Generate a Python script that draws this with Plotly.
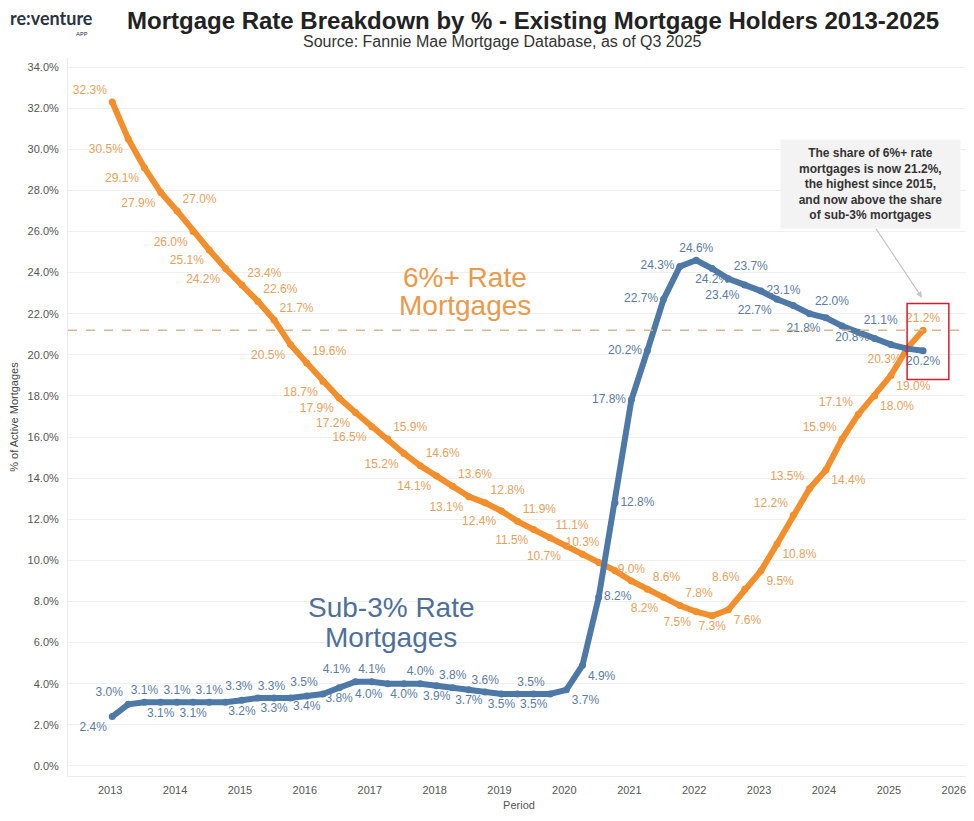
import pandas as pd
import plotly.graph_objects as go

# quarterly, 2013 Q1 .. 2025 Q3
periods = pd.date_range("2013-01-01", "2025-07-01", freq="QS")

# share of active mortgages with a rate of 6% or more
rate_6_plus = [32.3, 30.5, 29.1, 27.9, 27.0, 26.0, 25.1, 24.2, 23.4, 22.6,
               21.7, 20.5, 19.6, 18.7, 17.9, 17.2, 16.5, 15.9, 15.2, 14.6,
               14.1, 13.6, 13.1, 12.8, 12.4, 11.9, 11.5, 11.1, 10.7, 10.3,
               9.9, 9.5, 9.0, 8.6, 8.2, 7.8, 7.5, 7.3, 7.6, 8.6,
               9.5, 10.8, 12.2, 13.5, 14.4, 15.9, 17.1, 18.0, 19.0, 20.3,
               21.2]

# share of active mortgages with a rate below 3%
rate_sub_3 = [2.4, 3.0, 3.1, 3.1, 3.1, 3.1, 3.1, 3.1, 3.2, 3.3,
              3.3, 3.3, 3.4, 3.5, 3.8, 4.1, 4.1, 4.0, 4.0, 4.0,
              3.9, 3.8, 3.7, 3.6, 3.5, 3.5, 3.5, 3.5, 3.7, 4.9,
              8.2, 12.8, 17.8, 20.2, 22.7, 24.3, 24.6, 24.2, 23.7, 23.4,
              23.1, 22.7, 22.4, 22.0, 21.8, 21.4, 21.1, 20.8, 20.5, 20.3,
              20.2]

# points that carry no label in the original
hide_6_plus = [30, 31]
hide_sub_3 = [7, 25, 42, 45, 48, 49]

pos_6_plus = ["top left", "bottom left", "bottom left", "bottom left", "top right",
              "bottom left", "bottom left", "bottom left", "top right", "top right",
              "top right", "bottom left", "top right", "bottom left", "bottom left",
              "bottom left", "bottom left", "top right", "bottom left", "top right",
              "bottom left", "top right", "bottom left", "top right", "bottom left",
              "top right", "bottom left", "top right", "bottom left", "top center",
              "top center", "top center", "top center", "top right", "bottom left",
              "top right", "bottom left", "bottom center", "bottom right", "top left",
              "bottom right", "bottom right", "top left", "top left", "bottom right",
              "top left", "top left", "bottom right", "bottom right", "bottom left",
              "top center"]

pos_sub_3 = ["bottom left", "top left", "top center", "bottom center", "top center",
             "bottom center", "top center", "top center", "bottom center", "top left",
             "bottom center", "top left", "bottom center", "top left", "bottom center",
             "top left", "top center", "bottom left", "bottom center", "top center",
             "bottom center", "top center", "bottom center", "top center", "bottom center",
             "middle left", "bottom center", "top left", "bottom right", "bottom right",
             "middle right", "middle right", "middle left", "middle left", "middle left",
             "middle left", "top center", "bottom center", "top right", "bottom left",
             "middle right", "bottom left", "top right", "top right", "bottom left",
             "top right", "top right", "middle left", "top right", "top right",
             "bottom center"]

ORANGE = "#F28E2B"
BLUE = "#4E79A7"
ORANGE_TXT = "#E6A15E"
BLUE_TXT = "#5B7BA2"
FONT = "Liberation Sans, Arial, sans-serif"


def labels(values, hidden):
    return ["" if i in hidden else f"{v:.1f}%" for i, v in enumerate(values)]


fig = go.Figure()

fig.add_trace(go.Scatter(
    x=periods, y=rate_6_plus, mode="lines+markers+text",
    line=dict(color=ORANGE, width=6), marker=dict(color=ORANGE, size=7),
    text=labels(rate_6_plus, hide_6_plus), textposition=pos_6_plus,
    textfont=dict(color=ORANGE_TXT, size=12, family=FONT),
    cliponaxis=False, name="6%+ Rate Mortgages"))

fig.add_trace(go.Scatter(
    x=periods, y=rate_sub_3, mode="lines+markers+text",
    line=dict(color=BLUE, width=6), marker=dict(color=BLUE, size=7),
    text=labels(rate_sub_3, hide_sub_3), textposition=pos_sub_3,
    textfont=dict(color=BLUE_TXT, size=12, family=FONT),
    cliponaxis=False, name="Sub-3% Rate Mortgages"))

# reference level: latest 6%+ share
fig.add_hline(y=rate_6_plus[-1], line=dict(color="#D8B690", width=1.5, dash="dash"))

# red box around the latest quarter
last = periods[-1]
fig.add_shape(type="rect", xref="x", yref="y",
              x0=last - pd.Timedelta(days=90), x1=last + pd.Timedelta(days=145),
              y0=18.8, y1=22.5, line=dict(color="#D0202E", width=1.5))

# series call-outs
for txt, yy in [("6%+ Rate", 23.78), ("Mortgages", 22.42)]:
    fig.add_annotation(x="2018-06-10", y=yy, text=txt, showarrow=False,
                       font=dict(color="#E99A4C", size=28, family=FONT))
for txt, yy in [("Sub-3% Rate", 7.73), ("Mortgages", 6.27)]:
    fig.add_annotation(x="2017-04-20", y=yy, text=txt, showarrow=False,
                       font=dict(color="#4F6F97", size=28, family=FONT))

fig.add_annotation(
    xref="paper", yref="paper", x=0.89, y=0.887, xanchor="center", yanchor="top",
    text=("The share of 6%+ rate<br>mortgages is now 21.2%,<br>the highest since 2015,"
          "<br>and now above the share<br>of sub-3% mortgages"),
    showarrow=False, font=dict(color="#333333", size=12, family=FONT, weight="bold"),
    bgcolor="#F3F3F3", borderpad=6, width=167, align="center")
fig.add_annotation(x=last, y=22.7, text="", showarrow=True, ax=-48, ay=-72,
                   arrowcolor="#C4C4C4", arrowwidth=1.2, arrowhead=2, arrowsize=1,
                   standoff=2)

# header
fig.add_annotation(xref="paper", yref="paper", x=0.516, y=1.0, yshift=38, yanchor="middle",
                   text="<b>Mortgage Rate Breakdown by % - Existing Mortgage Holders 2013-2025</b>",
                   showarrow=False, font=dict(color="#222222", size=24, family=FONT))
fig.add_annotation(xref="paper", yref="paper", x=0.482, y=1.0, yshift=17, yanchor="middle",
                   text="Source: Fannie Mae Mortgage Database, as of Q3 2025",
                   showarrow=False, font=dict(color="#333333", size=16, family=FONT))
fig.add_annotation(xref="paper", yref="paper", x=-0.067, y=1.0, yshift=40, xanchor="left",
                   yanchor="middle", text="<b>re:venture</b>", showarrow=False,
                   font=dict(color="#2B3342", size=18, family="Lato, sans-serif"))
fig.add_annotation(xref="paper", yref="paper", x=0.024, y=1.0, yshift=25, xanchor="right",
                   yanchor="middle", text="APP", showarrow=False,
                   font=dict(color="#2B3342", size=6, family="Lato, sans-serif"))

# the page puts the figure 8px in from the top-left corner; keep it inside the window
fig.update_layout(
    width=962, height=805,
    margin=dict(l=60, r=0, t=50, b=37),
    paper_bgcolor="white", plot_bgcolor="white",
    showlegend=False,
    font=dict(family=FONT, color="#555555"),
)
fig.update_xaxes(
    range=["2012-04-27", "2026-03-22"], dtick="M12", tick0="2013-01-01", tickformat="%Y",
    showgrid=False, showline=True, linecolor="#EBEBEB", ticks="", automargin=False,
    ticklabelstandoff=4, ticklabelshift=-2,
    tickfont=dict(size=11, color="#555555"),
    title=dict(text="Period", font=dict(size=11, color="#555555"), standoff=6),
)
fig.update_yaxes(
    range=[-0.49, 34.44], dtick=2, tickformat=".1f", ticksuffix="%",
    showgrid=True, gridcolor="#EFEFEF", zeroline=False, automargin=False,
    showline=True, linecolor="#EBEBEB", ticklabelstandoff=6,
    tickfont=dict(size=11, color="#555555"),
    title=dict(text="% of Active Mortgages", font=dict(size=11, color="#444444"), standoff=6),
)

fig.write_html("out.html")
